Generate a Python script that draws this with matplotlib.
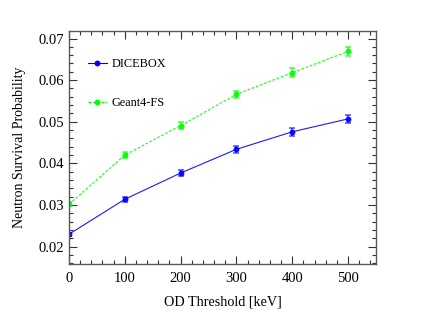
import matplotlib
matplotlib.use("Agg")
import matplotlib.pyplot as plt
from matplotlib.ticker import MultipleLocator
from matplotlib.lines import Line2D

thresholds = [0, 100, 200, 300, 400, 500]
dicebox = [0.0230, 0.0314, 0.0377, 0.0434, 0.0476, 0.0507]
dicebox_err = [0.0004, 0.0006, 0.0007, 0.0008, 0.0009, 0.0009]
geant4 = [0.0302, 0.0420, 0.0491, 0.0566, 0.0618, 0.0669]
geant4_err = [0.0005, 0.0007, 0.0008, 0.0009, 0.0010, 0.0010]

plt.rcParams['font.family'] = ['Liberation Serif', 'DejaVu Serif']

fig = plt.figure(figsize=(4.32, 3.12), dpi=100)
ax = fig.add_axes([0.1597, 0.1538, 0.7106, 0.7468])

blue = (0, 0, 1)
green = (0, 1, 0)
dash = (0, (2.5, 1.5))

for y, e, c, ls in [(dicebox, dicebox_err, blue, '-'), (geant4, geant4_err, green, dash)]:
    ax.errorbar(thresholds, y, yerr=e, fmt='none', ecolor=c + (0.55,),
                capsize=2.2, elinewidth=1.6, capthick=1.4)
    ax.plot(thresholds, y, color=c, lw=0.8, ls=ls, marker='o', ms=3.2, alpha=0.9)

ax.set_xlim(0, 550)
ax.set_ylim(0.01585, 0.0718)
ax.xaxis.set_major_locator(MultipleLocator(100))
ax.xaxis.set_minor_locator(MultipleLocator(20))
ax.yaxis.set_major_locator(MultipleLocator(0.01))
ax.yaxis.set_minor_locator(MultipleLocator(0.002))
ax.tick_params(which='both', direction='in', top=True, right=True,
               labelsize=10.5, color='0.2')
ax.tick_params(axis='x', which='major', pad=6)
ax.tick_params(which='major', length=6, width=0.8)
ax.tick_params(which='minor', length=3, width=0.8)
ax.yaxis.set_major_formatter(matplotlib.ticker.FormatStrFormatter('%.2f'))
for s in ax.spines.values():
    s.set_color('0.35')
    s.set_linewidth(1.0)

ax.set_xlabel('OD Threshold [keV]', fontsize=10.2, labelpad=7)
ax.set_ylabel('Neutron Survival Probability', fontsize=10, labelpad=9)

handles = [
    Line2D([], [], color=blue, lw=0.8, ls='-', marker='o', ms=3.2),
    Line2D([], [], color=green, lw=0.8, ls=dash, marker='o', ms=3.2),
]
ax.legend(handles, ['DICEBOX', 'Geant4-FS'], loc='upper left',
          bbox_to_anchor=(0.025, 0.93), frameon=False,
          fontsize=8.8, handlelength=1.6, labelspacing=2.2, handletextpad=0.35)

fig.savefig('out.png', dpi=100)
